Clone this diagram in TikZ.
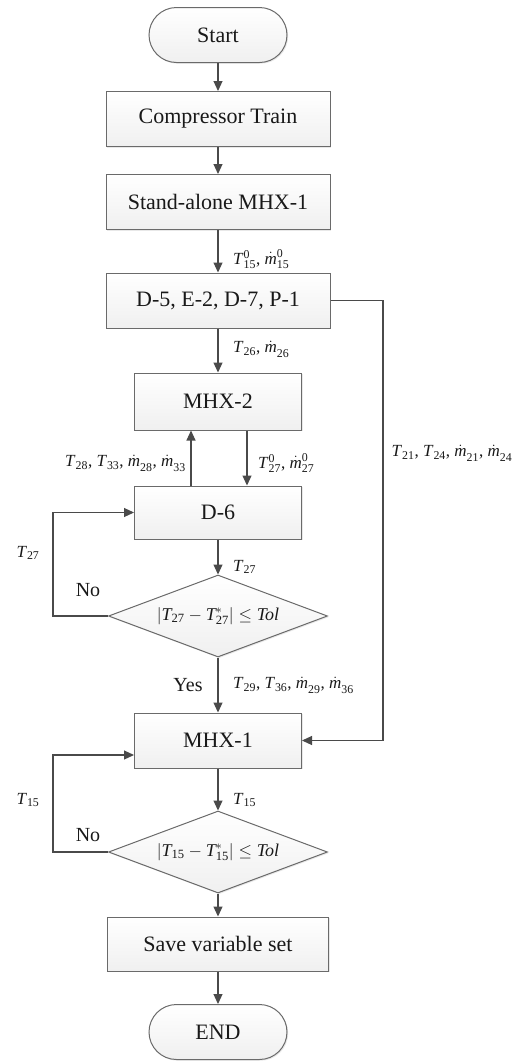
\documentclass[tikz,border=0pt]{standalone}
\usepackage{amsmath}
\usepackage{fontspec}
\setmainfont{Liberation Serif}
\usetikzlibrary{arrows.meta,shapes.geometric,shapes.misc,shadows}
\newcommand\vT[2]{\textit{T}\ensuremath{^{\text{#1}}_{\text{#2}}}}
\newcommand\vm[2]{\ensuremath{\dot{\text{\textit{m}}}^{\text{#1}}_{\text{#2}}}}
\definecolor{ln}{HTML}{4A4A4A}
\definecolor{bd}{HTML}{6A6A6A}
\tikzset{
  base/.style={draw=bd, line width=1pt, top color=white, bottom color=gray!12,
    text=black!90, font=\fontsize{22}{25}\selectfont, inner sep=0pt,
    drop shadow={shadow xshift=1.2pt, shadow yshift=-1.2pt, opacity=0.18}},
  proc/.style={base, rectangle, minimum width=#1, minimum height=55pt},
  term/.style={base, rounded rectangle, minimum width=138pt, minimum height=55pt},
  dec/.style={base, diamond, aspect=2.67, minimum width=219pt, minimum height=82pt,
    font=\fontsize{18}{20}\selectfont},
  conn/.style={draw=ln, line width=1.1pt, -{Triangle[length=10pt,width=9pt]}},
  lab/.style={font=\fontsize{17}{20}\selectfont, text=black!90, inner sep=1pt},
  txt/.style={font=\fontsize{20}{22}\selectfont, text=black!90, inner sep=1pt}
}
\begin{document}
\begin{tikzpicture}[x=1pt,y=-1pt]
\useasboundingbox (0,0) rectangle (516,1061);
\node[term] (start) at (218,35) {Start};
\node[proc=224pt] (comp) at (218,119) {Compressor Train};
\node[proc=224pt] (stand) at (218,202) {Stand-alone MHX-1};
\node[proc=224pt] (d5) at (218,300.5) {D-5, E-2, D-7, P-1};
\node[proc=167pt, minimum height=57pt] (mhx2) at (218,401.5) {MHX-2};
\node[proc=167pt, minimum height=53pt] (d6) at (218,512.5) {D-6};
\node[dec] (dia1) at (218,616) {$\left|\textit{T}_{\text{27}}-\textit{T}^{*}_{\text{27}}\right|\leq\textit{Tol}$};
\node[proc=167pt] (mhx1) at (218,740.5) {MHX-1};
\node[dec] (dia2) at (218,852) {$\left|\textit{T}_{\text{15}}-\textit{T}^{*}_{\text{15}}\right|\leq\textit{Tol}$};
\node[proc=221pt, minimum height=54pt] (save) at (218,944) {Save variable set};
\node[term] (end) at (218,1032) {END};

\coordinate (l1) at (53,512.5);
\coordinate (l1b) at (53,616);
\coordinate (l2) at (53,755);
\coordinate (l2b) at (53,852);
\coordinate (r1) at (383,300.5);
\coordinate (r2) at (383,740.5);

\draw[conn] (start) -- (comp);
\draw[conn] (comp) -- (stand);
\draw[conn] (stand) -- (d5);
\draw[conn] (d5) -- (mhx2);
\draw[conn] ([xshift=-27pt]d6.north) -- ([xshift=-27pt]mhx2.south);
\draw[conn] ([xshift=29pt]mhx2.south) -- ([xshift=29pt]d6.north);
\draw[conn] (d6) -- (dia1);
\draw[conn] (dia1.west) -- (l1b) -- (l1) -- (d6.west);
\draw[conn] (dia1) -- (mhx1);
\draw[conn] (d5.east) -- (r1) -- (r2) -- (mhx1.east);
\draw[conn] (mhx1) -- (dia2);
\draw[conn] (dia2.west) -- (l2b) -- (l2) -- (mhx1.west |- l2);
\draw[conn] (dia2) -- (save);
\draw[conn] (save) -- (end);

\node[lab, anchor=west] (lb1) at (232,259) {\vT{0}{15}, \vm{0}{15}};
\node[lab, anchor=west] (lb2) at (232,349) {\textit{T}\ensuremath{_{\text{26}}}, \vm{}{26}};
\node[lab, anchor=east] (lb3) at (187,463) {\textit{T}\ensuremath{_{\text{28}}}, \textit{T}\ensuremath{_{\text{33}}}, \vm{}{28}, \vm{}{33}};
\node[lab, anchor=west] (lb4) at (257,463) {\vT{0}{27}, \vm{0}{27}};
\node[lab, anchor=west] (lb5) at (232,567) {\textit{T}\ensuremath{_{\text{27}}}};
\node[lab] (lb6) at (28,553) {\textit{T}\ensuremath{_{\text{27}}}};
\node[txt] (no1) at (88,590) {No};
\node[txt] (yes) at (188,685) {Yes};
\node[lab, anchor=west] (lb7) at (232,685) {\textit{T}\ensuremath{_{\text{29}}}, \textit{T}\ensuremath{_{\text{36}}}, \vm{}{29}, \vm{}{36}};
\node[lab] (lb8) at (452,453) {\textit{T}\ensuremath{_{\text{21}}}, \textit{T}\ensuremath{_{\text{24}}}, \vm{}{21}, \vm{}{24}};
\node[lab, anchor=west] (lb9) at (232,800) {\textit{T}\ensuremath{_{\text{15}}}};
\node[lab] (lb10) at (28,800) {\textit{T}\ensuremath{_{\text{15}}}};
\node[txt] (no2) at (88,835) {No};
\end{tikzpicture}
\end{document}
